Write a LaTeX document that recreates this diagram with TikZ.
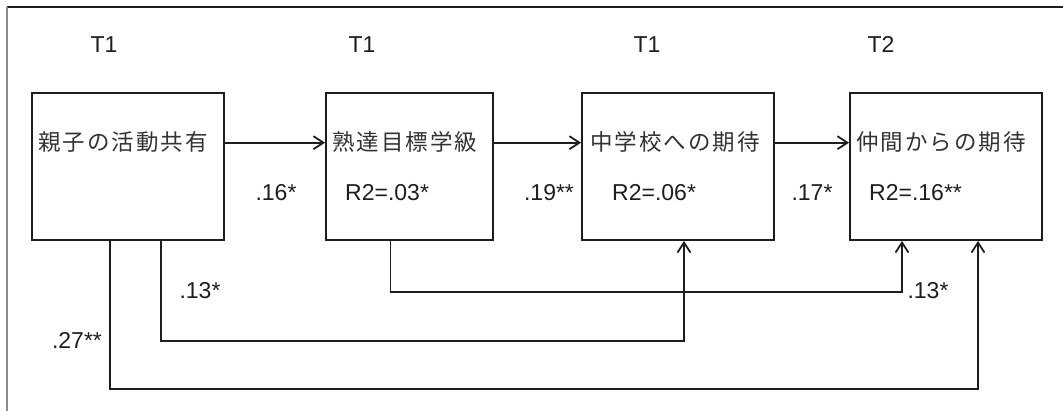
\documentclass[tikz,border=0pt]{standalone}
\usepackage{fontspec}
\setmainfont{Liberation Sans}
\newfontfamily\jp[LetterSpace=9]{Noto Sans CJK JP}
\usetikzlibrary{arrows.meta,calc}
\definecolor{ink}{HTML}{1E1E1E}
\definecolor{jpink}{HTML}{333333}
\definecolor{frameg}{HTML}{8A8A8A}
\begin{document}
\begin{tikzpicture}[x=1pt,y=-1pt,
  box/.style={draw=ink,line width=1.9pt,minimum height=147pt,inner sep=0pt},
  jptext/.style={anchor=base west,inner sep=0pt,text=jpink,font=\jp\fontsize{22.5}{24}\selectfont},
  lab/.style={anchor=base,inner sep=0pt,text=ink,font=\fontsize{23}{26}\selectfont},
  conn/.style={draw=ink,line width=1.8pt,-{Straight Barb[length=10pt,width=13pt,line width=1.8pt]}},
  plain/.style={draw=ink,line width=1.8pt}]
\useasboundingbox (0,0) rectangle (1063,411);
% frame
\coordinate (fa) at (7,7);
\coordinate (fb) at (1063,7);
\coordinate (fc) at (7,411);
\draw[ink,line width=1.8pt] (fa) -- (fb);
\draw[frameg,line width=1.8pt] (fa) -- (fc);
% boxes
\node[box,minimum width=192pt] (b1) at (128,166.5) {};
\node[box,minimum width=167pt] (b2) at (409.5,166.5) {};
\node[box,minimum width=192pt] (b3) at (678,166.5) {};
\node[box,minimum width=192pt] (b4) at (946,166.5) {};
% box texts
\node[jptext] (n1) at (38,151) {親子の活動共有};
\node[jptext] (n2) at (332,151) {熟達目標学級};
\node[jptext] (n3) at (590,151) {中学校への期待};
\node[jptext] (n4) at (856,151) {仲間からの期待};
\node[lab,anchor=base west] (r2) at (345,201) {R2=.03*};
\node[lab,anchor=base west] (r3) at (612,201) {R2=.06*};
\node[lab,anchor=base west] (r4) at (869,201) {R2=.16**};
% time labels
\node[lab] (t1) at (104,53) {T1};
\node[lab] (t2) at (362,53) {T1};
\node[lab] (t3) at (647,53) {T1};
\node[lab] (t4) at (881,53) {T2};
% path labels
\node[lab] (p12) at (276,201) {.16*};
\node[lab] (p23) at (549,201) {.19**};
\node[lab] (p34) at (812,201) {.17*};
\node[lab] (p13) at (200,299) {.13*};
\node[lab] (p14) at (77,349) {.27**};
\node[lab] (p24) at (928,299) {.13*};
% connectors
\draw[conn] ($(b1.east)+(0,-23.8)$) -- ($(b2.west)+(0,-23.8)$);
\draw[conn] ($(b2.east)+(0,-23.8)$) -- ($(b3.west)+(0,-23.8)$);
\draw[conn] ($(b3.east)+(0,-23.8)$) -- ($(b4.west)+(0,-23.8)$);
\draw[conn] ($(b1.south)+(33,0)$) -- ++(0,100) -| ($(b3.south)+(6,0)$);
\draw[conn] ($(b1.south)+(-18,0)$) -- ++(0,148) -| ($(b4.south)+(32,0)$);
\draw[conn] ($(b2.south)+(-19,0)$) -- ++(0,51) -| ($(b4.south)+(-44,0)$);
\end{tikzpicture}
\end{document}
